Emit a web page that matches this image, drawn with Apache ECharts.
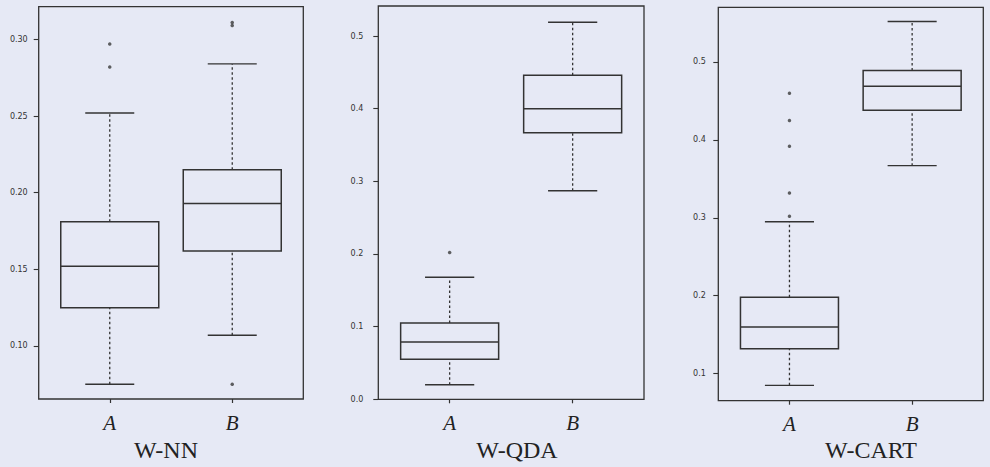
<!DOCTYPE html>
<html>
<head>
<meta charset="utf-8">
<script src="https://cdn.jsdelivr.net/npm/echarts@6/dist/echarts.min.js"></script>
<style>
html,body{margin:0;padding:0;background:#e6e9f5;}
#c{width:990px;height:467px;}
</style>
</head>
<body>
<div id="c"></div>
<script>
// ---- data ----
const categories = ['A', 'B'];
const panelTitles = ['W-NN', 'W-QDA', 'W-CART'];

// five-number summaries: [lower whisker, Q1, median, Q3, upper whisker]
const nnA   = [0.075, 0.125, 0.152, 0.181, 0.252];
const nnB   = [0.107, 0.162, 0.193, 0.215, 0.284];
const qdaA  = [0.020, 0.055, 0.079, 0.105, 0.168];
const qdaB  = [0.287, 0.367, 0.400, 0.446, 0.519];
const cartA = [0.085, 0.132, 0.160, 0.198, 0.295];
const cartB = [0.367, 0.438, 0.469, 0.489, 0.552];

// outliers
const nnOutA   = [0.297, 0.282];
const nnOutB   = [0.311, 0.309, 0.075];
const qdaOutA  = [0.202];
const qdaOutB  = [];
const cartOutA = [0.460, 0.425, 0.392, 0.332, 0.302];
const cartOutB = [];

// tick labels
const nnTicks   = [0.10, 0.15, 0.20, 0.25, 0.30];
const qdaTicks  = [0.0, 0.1, 0.2, 0.3, 0.4, 0.5];
const cartTicks = [0.1, 0.2, 0.3, 0.4, 0.5];

// ---- layout / style ----
const LINE = '#333333';
const panels = [
  {box: [nnA, nnB],   out: [nnOutA, nnOutB],     ticks: nnTicks,   dec: 2, ymin: 0.0654, ymax: 0.3213,
   grid: {left: 38.7, top: 6.7, width: 264.6, height: 392.3}, labMargin: 11, titleX: 166},
  {box: [qdaA, qdaB], out: [qdaOutA, qdaOutB],   ticks: qdaTicks,  dec: 1, ymin: 0.0,    ymax: 0.5413,
   grid: {left: 378.3, top: 6.0, width: 265.7, height: 393.3}, labMargin: 15, titleX: 517},
  {box: [cartA, cartB], out: [cartOutA, cartOutB], ticks: cartTicks, dec: 1, ymin: 0.0653, ymax: 0.5702,
   grid: {left: 718.3, top: 7.3, width: 265.0, height: 393.4}, labMargin: 12.5, titleX: 871}
];

function whiskerItem(params, api) {
  const x = api.value(0);
  const pLo = api.coord([x, api.value(1)]);
  const pQ1 = api.coord([x, api.value(2)]);
  const pQ3 = api.coord([x, api.value(3)]);
  const pHi = api.coord([x, api.value(4)]);
  const half = api.size([0.2, 0])[0];
  const dashed = {stroke: LINE, lineWidth: 1.3, lineDash: [2.5, 2.5]};
  const solid = {stroke: LINE, lineWidth: 1.4};
  return {type: 'group', children: [
    {type: 'line', shape: {x1: pLo[0], y1: pLo[1], x2: pQ1[0], y2: pQ1[1]}, style: dashed},
    {type: 'line', shape: {x1: pQ3[0], y1: pQ3[1], x2: pHi[0], y2: pHi[1]}, style: dashed},
    {type: 'line', shape: {x1: pLo[0] - half, y1: pLo[1], x2: pLo[0] + half, y2: pLo[1]}, style: solid},
    {type: 'line', shape: {x1: pHi[0] - half, y1: pHi[1], x2: pHi[0] + half, y2: pHi[1]}, style: solid}
  ]};
}

const grids = [], xAxes = [], yAxes = [], series = [], graphics = [];
panels.forEach((p, i) => {
  grids.push(Object.assign({show: true, borderColor: LINE, borderWidth: 1.3, backgroundColor: 'transparent', containLabel: false}, p.grid));
  xAxes.push({
    type: 'value', gridIndex: i, min: 0.42, max: 2.58,
    splitLine: {show: false},
    axisLine: {show: false, onZero: false},
    axisTick: {show: true, length: 4, customValues: [1, 2], lineStyle: {color: LINE, width: 1.2}},
    axisLabel: {customValues: [1, 2], margin: 13, formatter: v => categories[Math.round(v) - 1] || '',
      fontFamily: 'Liberation Serif', fontStyle: 'italic', fontSize: 21, color: '#222'}
  });
  yAxes.push({
    type: 'value', gridIndex: i, min: p.ymin, max: p.ymax,
    splitLine: {show: false},
    axisLine: {show: false, onZero: false},
    axisTick: {show: true, length: 5, customValues: p.ticks, lineStyle: {color: LINE, width: 1.1}},
    axisLabel: {customValues: p.ticks, margin: p.labMargin, formatter: v => Number(v).toFixed(p.dec),
      fontFamily: 'DejaVu Sans', fontSize: 8, color: '#333'}
  });
  series.push({
    type: 'boxplot', xAxisIndex: i, yAxisIndex: i,
    boxWidth: [98, 98],
    itemStyle: {color: 'rgba(0,0,0,0)', borderColor: LINE, borderWidth: 1.5},
    data: p.box.map((b, k) => [k + 1, b[1], b[1], b[2], b[3], b[3]])
  });
  series.push({
    type: 'custom', xAxisIndex: i, yAxisIndex: i,
    renderItem: whiskerItem,
    encode: {x: 0, y: [1, 2, 3, 4]},
    data: p.box.map((b, k) => [k + 1, b[0], b[1], b[3], b[4]])
  });
  const pts = [];
  p.out.forEach((arr, k) => arr.forEach(v => pts.push([k + 1, v])));
  series.push({
    type: 'scatter', xAxisIndex: i, yAxisIndex: i,
    symbol: 'circle', symbolSize: 3.5,
    itemStyle: {color: '#3a3a3a'},
    data: pts
  });
  graphics.push({
    type: 'text', x: p.titleX, y: 449.5,
    style: {text: panelTitles[i], fontFamily: 'Liberation Serif', fontSize: 24, fill: '#222',
      textAlign: 'center', textVerticalAlign: 'middle'}
  });
});

const chart = echarts.init(document.getElementById('c'), null, {renderer: 'svg', width: 990, height: 467});
chart.setOption({
  backgroundColor: '#e6e9f5',
  animation: false,
  grid: grids,
  xAxis: xAxes,
  yAxis: yAxes,
  series: series,
  graphic: graphics
});
</script>
</body>
</html>
